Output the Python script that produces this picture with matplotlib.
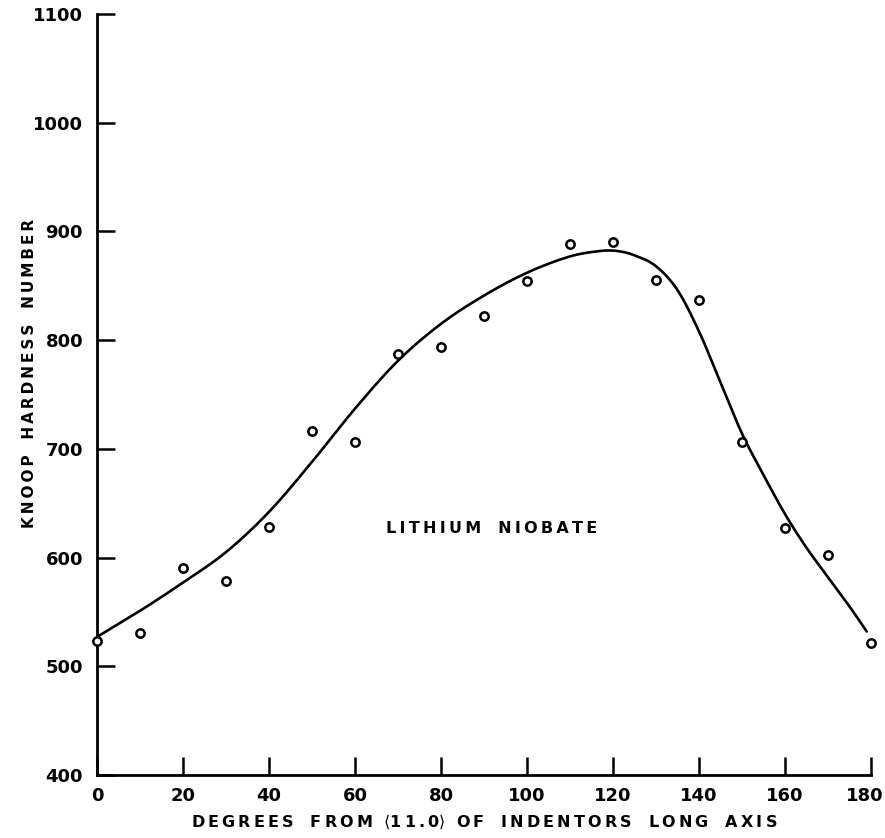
import numpy as np
import matplotlib
matplotlib.use("Agg")
import matplotlib.pyplot as plt
from matplotlib.transforms import ScaledTranslation

# Measured points (degrees, Knoop hardness)
deg_pts = [0, 10, 20, 30, 40, 50, 60, 70, 80, 90, 100, 110, 120, 130, 140, 150, 160, 170, 180]
khn_pts = [523, 531, 590, 578, 628, 716, 706, 787, 794, 822, 854, 888, 890, 855, 837, 706, 627, 602, 521]

# Hand-drawn fitted curve
deg_curve = [0, 10, 20, 30, 40, 50, 60, 70, 80, 90, 100, 110, 117, 121, 125, 130, 135,
             140, 145, 150, 155, 160, 165, 170, 175, 179]
khn_curve = [527, 551, 577, 605, 642, 688, 737, 781, 815, 841, 862, 877, 882, 882, 878,
             868, 846, 808, 761, 714, 676, 640, 609, 582, 555, 532]

x_ticks = [0, 20, 40, 60, 80, 100, 120, 140, 160, 180]
y_ticks = [400, 500, 600, 700, 800, 900, 1000, 1100]

THIN = "\u2009"


def spaced(s):
    words = s.split(" ")
    return "   ".join(THIN.join(w) for w in words)


def hermite_curve(xs, ys, n=20):
    xs = np.asarray(xs, float)
    ys = np.asarray(ys, float)
    m = np.empty_like(ys)
    m[1:-1] = (ys[2:] - ys[:-2]) / (xs[2:] - xs[:-2])
    m[0] = (ys[1] - ys[0]) / (xs[1] - xs[0])
    m[-1] = (ys[-1] - ys[-2]) / (xs[-1] - xs[-2])
    ox, oy = [], []
    t = np.linspace(0, 1, n, endpoint=False)
    for i in range(len(xs) - 1):
        h = xs[i + 1] - xs[i]
        h00 = 2 * t ** 3 - 3 * t ** 2 + 1
        h10 = t ** 3 - 2 * t ** 2 + t
        h01 = -2 * t ** 3 + 3 * t ** 2
        h11 = t ** 3 - t ** 2
        ox.extend(xs[i] + h * t)
        oy.extend(h00 * ys[i] + h10 * h * m[i] + h01 * ys[i + 1] + h11 * h * m[i + 1])
    ox.append(xs[-1])
    oy.append(ys[-1])
    return np.array(ox), np.array(oy)


fig = plt.figure(figsize=(8.85, 8.38), dpi=100)
ax = fig.add_axes([0.1096, 0.0752, 0.8746, 0.9081])

cx, cy = hermite_curve(deg_curve, khn_curve)
ax.plot(cx, cy, color="black", lw=1.9, solid_capstyle="round")
ax.plot(deg_pts, khn_pts, linestyle="none", marker="o", markersize=6,
        markerfacecolor="white", markeredgecolor="black", markeredgewidth=1.8,
        clip_on=False, zorder=5)

ax.set_xlim(0, 180)
ax.set_ylim(400, 1100)
ax.set_xticks(x_ticks)
ax.set_yticks(y_ticks)

for s in ("top", "right"):
    ax.spines[s].set_visible(False)
for s in ("left", "bottom"):
    ax.spines[s].set_linewidth(2.0)

ax.tick_params(axis="x", direction="in", length=13, width=1.8, labelsize=13, pad=9)
ax.tick_params(axis="y", direction="in", length=13, width=1.8, labelsize=13, pad=10)
for lab in ax.get_xticklabels() + ax.get_yticklabels():
    lab.set_fontweight("bold")
xl = ax.get_xticklabels()
xl[-1].set_transform(xl[-1].get_transform() + ScaledTranslation(-6 / 100, 0, fig.dpi_scale_trans))

xlabel = (spaced("DEGREES FROM") + "  " + r"$\langle$" + THIN.join("11.0") + r"$\rangle$" + "  "
          + spaced("OF INDENTORS LONG AXIS"))
ax.set_xlabel(xlabel, fontsize=11.5, fontweight="bold", labelpad=5)
ax.set_ylabel(spaced("KNOOP HARDNESS NUMBER"), fontsize=11, fontweight="bold")
ax.yaxis.set_label_coords(-0.078, 0.528)

ax.text(91.7, 627, spaced("LITHIUM NIOBATE"), fontsize=11.5, fontweight="bold",
        ha="center", va="center")

fig.savefig("out.png", dpi=100)
